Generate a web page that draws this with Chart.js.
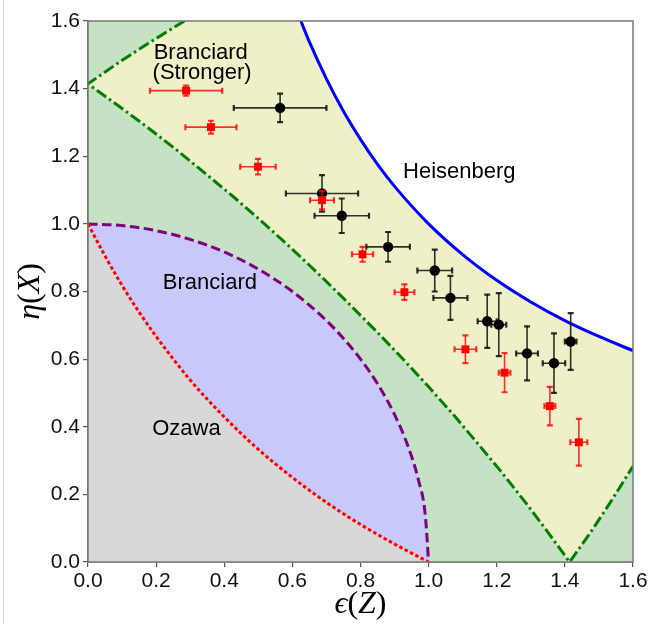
<!DOCTYPE html>
<html>
<head>
<meta charset="utf-8">
<script src="https://cdn.jsdelivr.net/npm/chart.js@4.4.0/dist/chart.umd.min.js"></script>
<style>
  html, body { margin: 0; padding: 0; background: #fff; }
  #wrap { width: 662px; height: 624px; }
</style>
</head>
<body>
<div id="wrap"><canvas id="chart" width="662" height="624"></canvas></div>
<script>
// ---- measured points, black circles ----
var blackX    = [0.564, 0.687, 0.745, 0.881, 1.018, 1.064, 1.172, 1.206, 1.289, 1.368, 1.417];
var blackY    = [1.343, 1.090, 1.024, 0.932, 0.862, 0.781, 0.712, 0.702, 0.617, 0.588, 0.652];
var blackXErr = [0.136, 0.106, 0.080, 0.064, 0.051, 0.050, 0.028, 0.022, 0.032, 0.033, 0.017];
var blackYErr = [0.042, 0.054, 0.051, 0.044, 0.062, 0.065, 0.079, 0.093, 0.080, 0.088, 0.084];

// ---- measured points, red squares ----
var redX    = [0.288, 0.361, 0.499, 0.687, 0.806, 0.929, 1.108, 1.223, 1.356, 1.441];
var redY    = [1.394, 1.286, 1.169, 1.070, 0.910, 0.798, 0.629, 0.560, 0.461, 0.354];
var redXErr = [0.106, 0.075, 0.052, 0.035, 0.031, 0.029, 0.032, 0.017, 0.016, 0.025];
var redYErr = [0.015, 0.019, 0.023, 0.027, 0.022, 0.023, 0.041, 0.058, 0.057, 0.069];

// ---- bound curves ----
var heisenX = [0.625, 0.65, 0.7, 0.75, 0.8, 0.85, 0.9, 1.0, 1.1, 1.2, 1.3, 1.4, 1.5, 1.6];
var heisenY = [1.6, 1.538, 1.429, 1.333, 1.25, 1.176, 1.111, 1.0, 0.909, 0.833, 0.769, 0.714, 0.667, 0.625];

var strongX = [0, 0.087, 0.174, 0.261, 0.347, 0.433, 0.518, 0.601, 0.684, 0.765, 0.845, 0.924, 1.0, 1.075, 1.147, 1.218, 1.286, 1.351, 1.414, 1.475, 1.532, 1.6];
var strongY = [1.414, 1.351, 1.286, 1.218, 1.147, 1.075, 1.0, 0.924, 0.845, 0.765, 0.684, 0.601, 0.518, 0.433, 0.347, 0.261, 0.174, 0.087, 0, 0.087, 0.174, 0.283];
var strongUpX = [0, 0.087, 0.174, 0.283];
var strongUpY = [1.414, 1.475, 1.532, 1.6];

var branX = [0, 0.1, 0.2, 0.3, 0.4, 0.5, 0.6, 0.7, 0.75, 0.8, 0.85, 0.9, 0.94, 0.97, 0.99, 1.0];
var branY = [1, 0.995, 0.980, 0.954, 0.917, 0.866, 0.8, 0.714, 0.661, 0.6, 0.527, 0.436, 0.341, 0.243, 0.141, 0];

var ozawaX = [0, 0.05, 0.1, 0.15, 0.2, 0.3, 0.4, 0.5, 0.6, 0.7, 0.8, 0.9, 1.0];
var ozawaY = [1, 0.905, 0.818, 0.739, 0.667, 0.538, 0.429, 0.333, 0.25, 0.176, 0.111, 0.053, 0];

var tickValues = [0, 0.2, 0.4, 0.6, 0.8, 1.0, 1.2, 1.4, 1.6];

var pts = function (xs, ys) {
  return xs.map(function (x, i) { return { x: x, y: ys[i] }; });
};
var errPts = function (xs, ys, xe, ye) {
  return xs.map(function (x, i) { return { x: x, y: ys[i], xe: xe[i], ye: ye[i] }; });
};

// region fills, bottom -> top via "order"
var fillSet = function (data, color, target, order) {
  return { data: data, showLine: true, fill: target, backgroundColor: color,
           borderWidth: 0, pointRadius: 0, order: order, tension: 0 };
};
var lineSet = function (data, color, width, dash, order, mono) {
  return { data: data, showLine: true, fill: false, borderColor: color, borderWidth: width,
           borderDash: dash, pointRadius: 0, order: order,
           cubicInterpolationMode: mono ? 'monotone' : 'default', tension: 0 };
};

var envelope = pts([0].concat(heisenX), [1.6].concat(heisenY));
var strongPath = pts(strongUpX.slice().reverse().concat(strongX.slice(1)),
                     strongUpY.slice().reverse().concat(strongY.slice(1)));

var datasets = [
  fillSet(envelope, '#efefc8', 'origin', 30),
  fillSet(pts(strongX, strongY), '#c5e2c5', 'origin', 29),
  fillSet(pts(strongUpX, strongUpY), '#c5e2c5', 'end', 28),
  fillSet(pts(branX, branY), '#c8c8fa', 'origin', 27),
  fillSet(pts(ozawaX, ozawaY), '#d8d8d8', 'origin', 26),
  lineSet(pts(branX, branY), '#800080', 3, [9.5, 4.5], 10, true),
  lineSet(pts(ozawaX, ozawaY), '#ff0000', 3, [3.5, 2.5], 9, true),
  lineSet(strongPath, '#007f00', 3, [11.5, 3.5, 2.5, 3.5], 8, false),
  lineSet(pts(heisenX, heisenY), '#0000ff', 3, [], 7, true),
  { data: errPts(blackX, blackY, blackXErr, blackYErr), errorColor: 'rgba(0,0,0,0.8)',
    pointStyle: 'circle', pointRadius: 5.2, backgroundColor: '#000', borderColor: '#000',
    borderWidth: 0, order: 2 },
  { data: errPts(redX, redY, redXErr, redYErr), errorColor: 'rgba(255,0,0,0.8)',
    pointStyle: 'rect', pointRadius: 5.6, backgroundColor: '#ff0000', borderColor: '#ff0000',
    borderWidth: 0, order: 1 }
];

var bgPlugin = {
  id: 'bg',
  beforeDraw: function (chart) {
    var ctx = chart.ctx;
    ctx.save();
    ctx.fillStyle = '#fff';
    ctx.fillRect(0, 0, chart.width, chart.height);
    ctx.fillStyle = '#d6d6d6';
    ctx.fillRect(3, 0, 1, chart.height);
    ctx.restore();
  }
};

var errorBarPlugin = {
  id: 'errorBars',
  beforeDatasetDraw: function (chart, args) {
    var ds = chart.data.datasets[args.index];
    if (!ds.errorColor) return;
    var xs = chart.scales.x, ys = chart.scales.y, ctx = chart.ctx, cap = 3;
    ctx.save();
    ctx.strokeStyle = ds.errorColor;
    ds.data.forEach(function (p) {
      var cx = xs.getPixelForValue(p.x), cy = ys.getPixelForValue(p.y);
      var x0 = xs.getPixelForValue(p.x - p.xe), x1 = xs.getPixelForValue(p.x + p.xe);
      var y0 = ys.getPixelForValue(p.y - p.ye), y1 = ys.getPixelForValue(p.y + p.ye);
      ctx.lineWidth = 1.6;
      ctx.beginPath();
      ctx.moveTo(x0, cy); ctx.lineTo(x1, cy);
      ctx.moveTo(cx, y0); ctx.lineTo(cx, y1);
      ctx.stroke();
      ctx.lineWidth = 2.2;
      ctx.beginPath();
      ctx.moveTo(x0, cy - cap); ctx.lineTo(x0, cy + cap);
      ctx.moveTo(x1, cy - cap); ctx.lineTo(x1, cy + cap);
      ctx.moveTo(cx - cap, y0); ctx.lineTo(cx + cap, y0);
      ctx.moveTo(cx - cap, y1); ctx.lineTo(cx + cap, y1);
      ctx.stroke();
    });
    ctx.restore();
  }
};

// mixed italic / upright math label
var drawMath = function (ctx, parts, size) {
  var total = 0;
  parts.forEach(function (p) {
    ctx.font = (p[1] ? 'italic ' : '') + size + 'px "Liberation Serif", "DejaVu Serif", serif';
    p.w = ctx.measureText(p[0]).width;
    total += p.w;
  });
  var x = -total / 2;
  parts.forEach(function (p) {
    ctx.font = (p[1] ? 'italic ' : '') + size + 'px "Liberation Serif", "DejaVu Serif", serif';
    ctx.fillText(p[0], x, 0);
    x += p.w;
  });
};

var textPlugin = {
  id: 'texts',
  afterDraw: function (chart) {
    var ctx = chart.ctx, xs = chart.scales.x, ys = chart.scales.y, a = chart.chartArea;
    ctx.save();
    // frame
    ctx.strokeStyle = '#777';
    ctx.lineWidth = 1.5;
    ctx.strokeRect(a.left, a.top, a.right - a.left, a.bottom - a.top);
    // region labels
    ctx.fillStyle = '#000';
    ctx.font = '22px "Liberation Sans", Arial, sans-serif';
    ctx.textAlign = 'center';
    ctx.textBaseline = 'middle';
    [['Branciard', 0.331, 1.505], ['(Stronger)', 0.335, 1.446], ['Heisenberg', 1.090, 1.155],
     ['Branciard', 0.358, 0.824], ['Ozawa', 0.289, 0.395]].forEach(function (t) {
      ctx.fillText(t[0], xs.getPixelForValue(t[1]), ys.getPixelForValue(t[2]));
    });
    // axis titles
    ctx.textAlign = 'left';
    ctx.textBaseline = 'middle';
    ctx.save();
    ctx.translate((a.left + a.right) / 2, 605);
    drawMath(ctx, [['\u03f5', true], ['(', false], ['Z', true], [')', false]], 32);
    ctx.restore();
    ctx.save();
    ctx.translate(31, (a.top + a.bottom) / 2);
    ctx.rotate(-Math.PI / 2);
    drawMath(ctx, [['\u03b7', true], ['(', false], ['X', true], [')', false]], 32);
    ctx.restore();
    ctx.restore();
  }
};

var axisOpts = function (isX) {
  return {
    type: 'linear', min: 0, max: 1.6,
    afterBuildTicks: function (scale) {
      scale.ticks = tickValues.map(function (v) { return { value: v }; });
    },
    afterFit: function (scale) {
      if (isX) { scale.height = 62; } else { scale.width = 88; }
    },
    ticks: {
      autoSkip: false, maxRotation: 0, padding: isX ? 2 : 3, color: '#111',
      font: { family: '"Liberation Sans", Arial, sans-serif', size: 21 },
      callback: function (v) { return Number(v).toFixed(1); }
    },
    grid: { drawOnChartArea: false, drawTicks: true, tickLength: 5, color: '#555', lineWidth: 1.2 },
    border: { display: true, color: '#777', width: 1.5 }
  };
};

new Chart(document.getElementById('chart'), {
  type: 'scatter',
  data: { datasets: datasets },
  options: {
    responsive: false,
    animation: false,
    devicePixelRatio: 1,
    layout: { padding: { top: 21, right: 29, left: 0, bottom: 0 } },
    plugins: { legend: { display: false }, tooltip: { enabled: false } },
    scales: { x: axisOpts(true), y: axisOpts(false) }
  },
  plugins: [bgPlugin, errorBarPlugin, textPlugin]
});
</script>
</body>
</html>
